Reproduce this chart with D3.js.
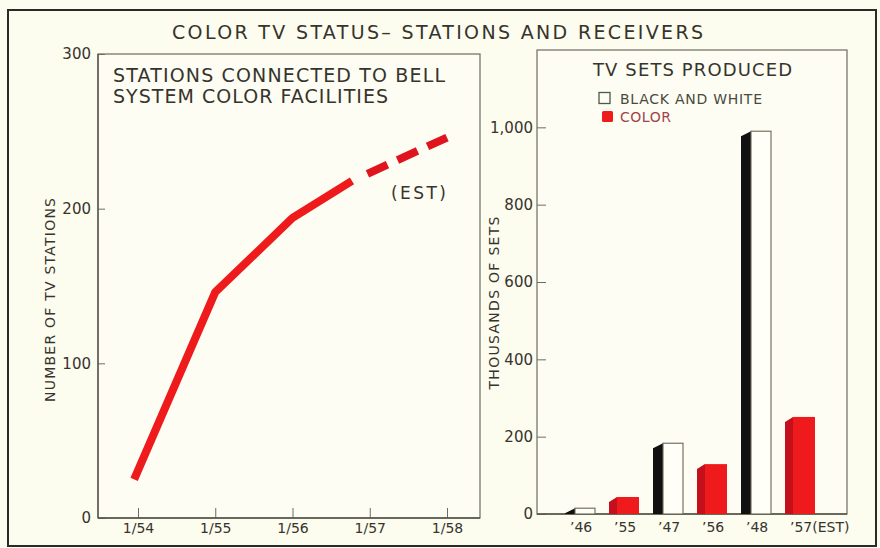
<!DOCTYPE html>
<html>
<head>
<meta charset="utf-8">
<script src="https://cdn.jsdelivr.net/npm/d3@7"></script>
<style>
  html, body { margin: 0; padding: 0; background: #fcfcef; }
  svg { display: block; }
  text { font-family: "DejaVu Sans", "Liberation Sans", sans-serif; fill: #37332d; }
</style>
</head>
<body>
<svg id="chart" width="880" height="548"></svg>
<script>
// ---------- data ----------
const stationTickYears = [1954, 1955, 1956, 1957, 1958];
const stationTickLabels = ["1/54", "1/55", "1/56", "1/57", "1/58"];
const stationYears = [1953.95, 1955, 1956, 1956.77];
const stationCounts = [25, 146, 194, 218];
const estimateYears = [1956.77, 1958];
const estimateCounts = [218, 246];
const stationTicks = [0, 100, 200, 300];

const setLabels = ["’46", "’55", "’47", "’56", "’48", "’57(EST)"];
const setKinds = ["bw", "color", "bw", "color", "bw", "color"];
const setValues = [15, 44, 183, 129, 990, 251];
const setTicks = [0, 200, 400, 600, 800, 1000];

const legendLabels = ["BLACK AND WHITE", "COLOR"];

// ---------- drawing ----------
const svg = d3.select("#chart");
const ink = "#37332d";
const frameColor = "#6e6c5e";
const red = "#ee1a1c";
const darkRed = "#c4101c";

svg.append("rect").attr("x", 0).attr("y", 0).attr("width", 880).attr("height", 548).attr("fill", "#fcfcef");
svg.append("rect").attr("x", 8).attr("y", 10).attr("width", 868).attr("height", 536)
  .attr("fill", "none").attr("stroke", "#2a2a28").attr("stroke-width", 2);

svg.append("text").attr("x", 172).attr("y", 39).attr("font-size", 19)
  .attr("textLength", 531).attr("lengthAdjust", "spacing")
  .text("COLOR TV STATUS– STATIONS AND RECEIVERS");

// ===== Left panel =====
const L = { left: 98, right: 480, top: 54, bottom: 518 };
const xL = d3.scaleLinear().domain([1954, 1958]).range([138, 447]);
const yL = d3.scaleLinear().domain([0, 300]).range([L.bottom, L.top]);

svg.append("rect").attr("x", L.left).attr("y", L.top)
  .attr("width", L.right - L.left).attr("height", L.bottom - L.top)
  .attr("fill", "#fdfdf3").attr("stroke", frameColor).attr("stroke-width", 1.2);

const yAxisL = d3.axisLeft(yL).tickValues(stationTicks).tickSizeInner(-7).tickSizeOuter(0).tickPadding(7);
const gyL = svg.append("g").attr("transform", `translate(${L.left},0)`).call(yAxisL);
gyL.select(".domain").remove();
gyL.selectAll("line").attr("stroke", frameColor);
gyL.selectAll("text").attr("font-size", 15).attr("fill", ink).attr("font-family", null);

const xAxisL = d3.axisBottom(xL).tickValues(stationTickYears)
  .tickFormat((d, i) => stationTickLabels[i]).tickSizeInner(-10).tickSizeOuter(0).tickPadding(5);
const gxL = svg.append("g").attr("transform", `translate(0,${L.bottom})`).call(xAxisL);
gxL.select(".domain").remove();
gxL.selectAll("line").attr("stroke", frameColor);
gxL.selectAll("text").attr("font-size", 14).attr("fill", ink).attr("font-family", null);

svg.append("line").attr("x1", L.left).attr("x2", L.right).attr("y1", L.bottom).attr("y2", L.bottom)
  .attr("stroke", "#55544a").attr("stroke-width", 1.5);
svg.append("line").attr("x1", L.left).attr("x2", L.left).attr("y1", L.top).attr("y2", L.bottom)
  .attr("stroke", "#55544a").attr("stroke-width", 1.3);

svg.append("text").attr("transform", `translate(55,300) rotate(-90)`)
  .attr("text-anchor", "middle").attr("font-size", 14)
  .attr("textLength", 204).attr("lengthAdjust", "spacing")
  .text("NUMBER OF TV STATIONS");

svg.append("text").attr("x", 113).attr("y", 82).attr("font-size", 19)
  .attr("textLength", 332).attr("lengthAdjust", "spacing").text("STATIONS CONNECTED TO BELL");
svg.append("text").attr("x", 113).attr("y", 103).attr("font-size", 19)
  .attr("textLength", 275).attr("lengthAdjust", "spacing").text("SYSTEM COLOR FACILITIES");
svg.append("text").attr("x", 391).attr("y", 199).attr("font-size", 17)
  .attr("textLength", 55).attr("lengthAdjust", "spacing").text("(EST)");

const line = d3.line().x(d => xL(d[0])).y(d => yL(d[1]));
const solidPts = stationYears.map((t, i) => [t, stationCounts[i]]);
const estPts = estimateYears.map((t, i) => [t, estimateCounts[i]]);

svg.append("path").attr("d", line(solidPts)).attr("fill", "none")
  .attr("stroke", red).attr("stroke-width", 8).attr("stroke-linejoin", "round").attr("stroke-linecap", "butt");
svg.append("path").attr("d", line(estPts)).attr("fill", "none")
  .attr("stroke", "#e0141e").attr("stroke-width", 8).attr("stroke-linecap", "butt")
  .attr("stroke-dasharray", "0,17,22,11,22,11,22,60");

// ===== Right panel =====
const R = { left: 537, right: 847, top: 50, bottom: 514 };
const yR = d3.scaleLinear().domain([0, 1200]).range([R.bottom, R.top]);
const xR = d3.scaleBand().domain(setLabels).range([558, 822]).paddingInner(0).paddingOuter(0);

svg.append("rect").attr("x", R.left).attr("y", R.top)
  .attr("width", R.right - R.left).attr("height", R.bottom - R.top)
  .attr("fill", "#fdfdf3").attr("stroke", frameColor).attr("stroke-width", 1.2);

const yAxisR = d3.axisLeft(yR).tickValues(setTicks).tickFormat(d3.format(","))
  .tickSizeInner(-9).tickSizeOuter(0).tickPadding(4);
const gyR = svg.append("g").attr("transform", `translate(${R.left},0)`).call(yAxisR);
gyR.select(".domain").remove();
gyR.selectAll("line").attr("stroke", frameColor);
gyR.selectAll("text").attr("font-size", 15).attr("fill", ink).attr("font-family", null);

svg.append("line").attr("x1", R.left).attr("x2", R.right).attr("y1", R.bottom).attr("y2", R.bottom)
  .attr("stroke", "#55544a").attr("stroke-width", 1.5);

svg.append("text").attr("transform", `translate(499,303) rotate(-90)`)
  .attr("text-anchor", "middle").attr("font-size", 14)
  .attr("textLength", 173).attr("lengthAdjust", "spacing")
  .text("THOUSANDS OF SETS");

svg.append("text").attr("x", 593).attr("y", 76).attr("font-size", 18)
  .attr("textLength", 199).attr("lengthAdjust", "spacing").text("TV SETS PRODUCED");

// legend
svg.append("rect").attr("x", 599).attr("y", 92.5).attr("width", 11).attr("height", 11)
  .attr("fill", "#fdfdf3").attr("stroke", "#4d5a44").attr("stroke-width", 1.3);
svg.append("text").attr("x", 620).attr("y", 103.5).attr("font-size", 14).style("fill", "#4a4a3c")
  .attr("textLength", 142).attr("lengthAdjust", "spacing").text(legendLabels[0]);
svg.append("rect").attr("x", 602).attr("y", 111).attr("width", 11).attr("height", 11).attr("rx", 1.5)
  .attr("fill", red);
svg.append("text").attr("x", 620).attr("y", 121.5).attr("font-size", 14).style("fill", "#a0444a")
  .attr("textLength", 51).attr("lengthAdjust", "spacing").text(legendLabels[1]);

// bars (with a shaded left side face)
const barW = 30;
setLabels.forEach((lab, i) => {
  const cx = xR(lab) + xR.bandwidth() / 2;
  const x0 = cx - barW / 2;
  const top = yR(setValues[i]);
  const base = yR(0);
  const isBW = setKinds[i] === "bw";
  const side = isBW ? 10 : 8;
  const drop = Math.min(5, base - top);
  const g = svg.append("g");
  g.append("path")
    .attr("d", `M${x0},${base} L${x0},${top + drop} L${x0 + side},${top} L${x0 + side},${base} Z`)
    .attr("fill", isBW ? "#111" : darkRed);
  g.append("rect").attr("x", x0 + side).attr("y", top).attr("width", barW - side).attr("height", base - top)
    .attr("fill", isBW ? "#fffff8" : red)
    .attr("stroke", isBW ? "#6b6656" : "none").attr("stroke-width", 1.1);
  svg.append("text").attr("x", x0 + 5).attr("y", 532).attr("font-size", 14).text(lab);
});
</script>
</body>
</html>
